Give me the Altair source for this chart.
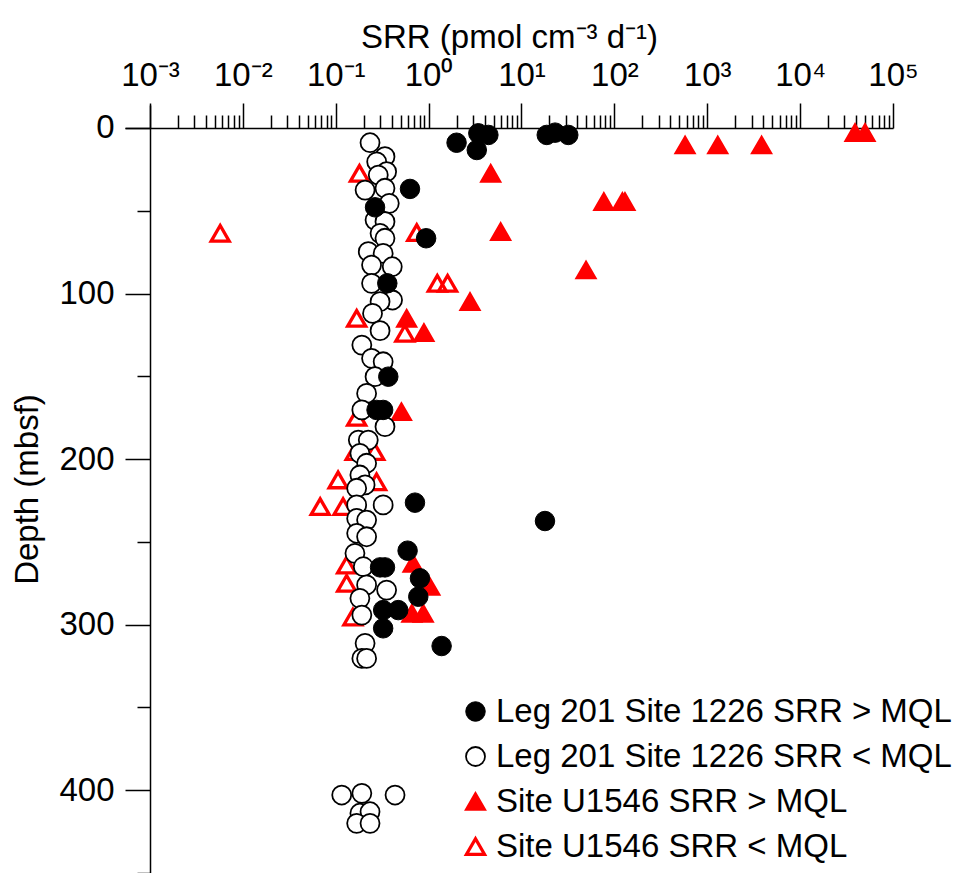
import altair as alt
import pandas as pd

# ---- series names ----
S1 = "Leg 201 Site 1226 SRR > MQL"
S2 = "Leg 201 Site 1226 SRR < MQL"
S3 = "Site U1546 SRR > MQL"
S4 = "Site U1546 SRR < MQL"

# ---- Leg 201 Site 1226, SRR > MQL (filled black circles) ----
leg_gt_depth = [8.9, 13.3, 3.2, 4.2, 4.2, 2.8, 4.2, 36.8, 47.9, 66.6, 93.8, 150.2,
                170.3, 170.3, 226.3, 237.4, 255.3, 265.4, 265.4, 272.0, 283.1,
                291.2, 291.2, 302.2, 312.9]
leg_gt_srr = [2.0, 3.3, 3.43, 4.4, 18.7, 23.0, 31.9, 0.63, 0.265, 0.94, 0.359, 0.368,
              0.275, 0.324, 0.713, 17.9, 0.594, 0.30, 0.339, 0.807, 0.774,
              0.471, 0.324, 0.324, 1.38]

# ---- Leg 201 Site 1226, SRR < MQL (open black circles) ----
leg_lt_depth = [8.9, 17.3, 20.4, 26.4, 28.4, 36.4, 37.5, 45.5, 55.6, 56.6, 63.6, 66.6,
                74.7, 75.7, 82.8, 83.8, 93.8, 103.9, 104.9, 112.0, 122.4, 131.1,
                139.1, 141.2, 150.2, 160.3, 170.3, 180.4, 188.5, 188.5, 196.5, 202.5,
                209.6, 215.6, 217.6, 227.7, 227.7, 235.8, 236.8, 244.8, 246.9, 256.9,
                265.0, 276.0, 279.1, 284.1, 294.2, 311.3, 320.4, 320.4,
                402.9, 401.9, 402.9, 413.9, 413.0, 420.0, 420.0]
leg_lt_srr = [0.234, 0.339, 0.276, 0.353, 0.287, 0.339, 0.207, 0.377, 0.265, 0.339, 0.300, 0.339,
              0.224, 0.324, 0.243, 0.406, 0.243, 0.409, 0.300, 0.249, 0.300, 0.191,
              0.243, 0.324, 0.265, 0.215, 0.191, 0.339, 0.175, 0.224, 0.182, 0.215,
              0.182, 0.207, 0.168, 0.324, 0.168, 0.168, 0.215, 0.168, 0.215, 0.161,
              0.198, 0.215, 0.353, 0.182, 0.191, 0.207, 0.191, 0.215,
              0.116, 0.191, 0.435, 0.182, 0.234, 0.168, 0.234]

# ---- Site U1546, SRR > MQL (filled red triangles) ----
u_gt_depth = [10.3, 10.3, 10.3, 2.8, 2.8, 27.4, 44.5, 44.5, 44.5, 62.6, 85.8, 104.9,
              115.0, 123.6, 171.4, 263.0, 277.0, 293.2, 293.2]
u_gt_srr = [577, 1297, 3846, 39000, 50000, 4.66, 77, 122, 130, 5.96, 49.5, 2.79,
            0.58, 0.89, 0.51, 0.68, 1.03, 0.66, 0.875]

# ---- Site U1546, SRR < MQL (open red triangles) ----
u_lt_depth = [27.4, 63.6, 63.2, 93.8, 93.8, 115.0, 124.0, 174.8, 195.5, 195.5, 212.6,
              213.7, 228.7, 228.7, 264.0, 275.0, 295.4]
u_lt_srr = [0.18, 0.0057, 0.745, 1.24, 1.60, 0.168, 0.555, 0.168, 0.162, 0.263, 0.106,
            0.275, 0.068, 0.12, 0.131, 0.131, 0.153]

# ---- axis ticks ----
x_major = [1e-3, 1e-2, 1e-1, 1e0, 1e1, 1e2, 1e3, 1e4, 1e5]
x_minor = [m * 10.0 ** k for k in range(-3, 5) for m in range(2, 10)]
y_major = [0, 100, 200, 300, 400]
y_minor = [50, 150, 250, 350, 450]

# drawing order: red triangles first, then open circles, then filled circles
rows = []
for name, dep, val in [(S3, u_gt_depth, u_gt_srr), (S4, u_lt_depth, u_lt_srr),
                       (S2, leg_lt_depth, leg_lt_srr), (S1, leg_gt_depth, leg_gt_srr)]:
    for d, v in zip(dep, val):
        rows.append({"series": name, "depth": d, "srr": v})
df = pd.DataFrame(rows)

FONT = "Liberation Sans"
FS = 33
order = [S1, S2, S3, S4]

xscale = alt.Scale(type="log", domain=[10 ** -3.269, 1e5], nice=False)
yscale = alt.Scale(domain=[-13.89, 450], nice=False, zero=False, reverse=True)

sup = "['⁻³','⁻²','⁻¹','⁰','¹','²','³','⁴','⁵'][round(log(datum.value)/LN10)+3]"

points = alt.Chart(df).mark_point(opacity=1).encode(
    x=alt.X("srr:Q", scale=xscale,
            axis=alt.Axis(orient="top", values=x_major, labelExpr="'10' + " + sup,
                          tickSize=25, offset=-23, labelPadding=11,
                          title="SRR (pmol cm⁻³ d⁻¹)", titlePadding=5,
                          labelFlush=False, labelOverlap=False)),
    y=alt.Y("depth:Q", scale=yscale,
            axis=alt.Axis(orient="left", values=y_major, tickSize=25, offset=-25,
                          labelPadding=11, title="Depth (mbsf)", titlePadding=14,
                          labelFlush=False, labelOverlap=False)),
    shape=alt.Shape("series:N",
                    scale=alt.Scale(domain=order, range=["circle", "circle", "triangle-up", "triangle-up"]),
                    legend=alt.Legend(title=None, orient="none", legendX=334, legendY=590,
                                      labelFontSize=33, labelFont=FONT, labelColor="black",
                                      labelLimit=700, labelOffset=4, rowPadding=11, padding=0)),
    fill=alt.Fill("series:N", scale=alt.Scale(domain=order, range=["black", "white", "#ff0000", "transparent"])),
    stroke=alt.Stroke("series:N", scale=alt.Scale(domain=order, range=["black", "black", "#ff0000", "#ff0000"])),
    size=alt.Size("series:N", scale=alt.Scale(domain=order, range=[380, 324, 350, 300])),
    strokeWidth=alt.StrokeWidth("series:N", scale=alt.Scale(domain=order, range=[1, 3.3, 0.5, 2.5])),
)

minor = alt.Chart(df).mark_point(opacity=0).encode(
    x=alt.X("srr:Q", scale=xscale,
            axis=alt.Axis(orient="top", values=x_minor, labels=False, domain=False,
                          tickSize=13, offset=-23, title=None)),
    y=alt.Y("depth:Q", scale=yscale,
            axis=alt.Axis(orient="left", values=y_minor, labels=False, domain=False,
                          tickSize=13, offset=-25, title=None)),
)

chart = alt.layer(minor, points).resolve_axis(x="independent", y="independent").properties(
    width=768, height=768,
    autosize=alt.AutoSizeParams(type="none"),
    padding={"left": 117, "top": 97, "right": 74, "bottom": 0},
).configure_view(stroke=None).configure_axis(
    grid=False, domainColor="black", domainWidth=1.5, tickColor="black", tickWidth=1.5,
    labelFont=FONT, labelFontSize=FS, labelColor="black",
    titleFont=FONT, titleFontSize=FS, titleFontWeight="normal", titleColor="black",
)

chart.save("out.html", embed_options={"renderer": "svg", "actions": False})
